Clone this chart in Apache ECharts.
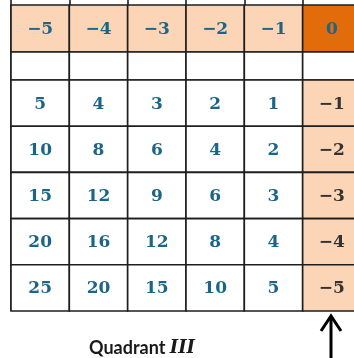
<!DOCTYPE html>
<html><head><meta charset="utf-8">
<script src="https://cdn.jsdelivr.net/npm/echarts@6/dist/echarts.min.js"></script>
<style>html,body{margin:0;padding:0;background:#fff}#c{width:354px;height:358px}</style>
</head><body><div id="c"></div>
<script>
// ---- data ----
const columnKeys = ['c1', 'c2', 'c3', 'c4', 'c5', 'c6'];
const headerValues = [-5, -4, -3, -2, -1, 0];
const rowKeys = ['r1', 'r2', 'r3', 'r4', 'r5'];
const tableRows = [
  [5, 4, 3, 2, 1],
  [10, 8, 6, 4, 2],
  [15, 12, 9, 6, 3],
  [20, 16, 12, 8, 4],
  [25, 20, 15, 10, 5]
];
const rightColumn = [-1, -2, -3, -4, -5];
const titleMain = 'Quadrant ';
const titleNumeral = 'III';

// ---- styles ----
const TEAL = '#1b6688', DARK = '#333333', LIGHT = '#fbd5b5', ORANGE = '#e36c0a', LINE = '#1e1e1e';
const fmt = v => (v < 0 ? '\u2212' + Math.abs(v) : String(v));
// kind: 0 plain, 1 light right column, 2 dark orange, 3 light header, 4 blank
const headerData = headerValues.map((v, i) => [i, 0, v, i === headerValues.length - 1 ? 2 : 3]);
const blankData = columnKeys.map((k, i) => [i, 0, 0, 4]);
const bodyData = [];
tableRows.forEach((row, r) => {
  row.forEach((v, c) => bodyData.push([c, r, v, 0]));
  bodyData.push([row.length, r, rightColumn[r], 1]);
});

function renderCell(params, api) {
  const c = api.coord([api.value(0), api.value(1)]);
  const s = api.size([1, 1]);
  const kind = api.value(3);
  const fill = kind === 2 ? ORANGE : (kind === 1 || kind === 3) ? LIGHT : '#ffffff';
  const children = [{
    type: 'rect',
    shape: { x: c[0] - s[0] / 2, y: c[1] - s[1] / 2, width: s[0], height: s[1] },
    style: { fill: fill, stroke: LINE, lineWidth: 1.6 }
  }];
  if (kind !== 4) {
    children.push({
      type: 'text',
      style: {
        text: fmt(api.value(2)), x: c[0], y: c[1] + 1,
        align: 'center', verticalAlign: 'middle',
        fill: kind === 1 ? DARK : TEAL,
        font: 'bold 17px "DejaVu Serif", serif'
      }
    });
  }
  return { type: 'group', children: children };
}

const chart = echarts.init(document.getElementById('c'), null, { renderer: 'canvas' });
const L = 11, W = 350;
const gridBase = { left: L, width: W, outerBoundsMode: 'none', containLabel: false };
chart.setOption({
  animation: false,
  backgroundColor: '#ffffff',
  grid: [
    Object.assign({ top: 0, height: 311 }, gridBase),
    Object.assign({ top: 5, height: 47 }, gridBase),
    Object.assign({ top: 52, height: 28 }, gridBase),
    Object.assign({ top: 80, height: 231 }, gridBase)
  ],
  xAxis: [0, 1, 2, 3].map(g => ({
    type: 'category', data: columnKeys, gridIndex: g, show: g === 0,
    axisLine: { show: false }, axisTick: { show: false }, axisLabel: { show: false },
    splitLine: { show: g === 0, lineStyle: { color: LINE, width: 1.6 } }
  })),
  yAxis: [
    { type: 'value', gridIndex: 0, show: false },
    { type: 'category', data: ['h'], gridIndex: 1, show: false },
    { type: 'category', data: ['b'], gridIndex: 2, show: false },
    { type: 'category', data: rowKeys, gridIndex: 3, inverse: true, show: false }
  ],
  series: [
    { type: 'custom', xAxisIndex: 1, yAxisIndex: 1, data: headerData, renderItem: renderCell, silent: true, clip: false },
    { type: 'custom', xAxisIndex: 2, yAxisIndex: 2, data: blankData, renderItem: renderCell, silent: true, clip: false },
    { type: 'custom', xAxisIndex: 3, yAxisIndex: 3, data: bodyData, renderItem: renderCell, silent: true, clip: false }
  ],
  graphic: [
    {
      type: 'text', left: 89, top: 339,
      style: {
        text: '{a|' + titleMain + '}{b|' + titleNumeral + '}',
        rich: {
          a: { font: 'bold 18px Lato, "Open Sans", sans-serif', fill: '#1a1a1a' },
          b: { font: 'italic bold 18px "DejaVu Serif", serif', fill: '#1a1a1a' }
        }
      }
    },
    {
      type: 'group',
      children: [
        { type: 'line', shape: { x1: 331, y1: 316, x2: 331, y2: 360 }, style: { stroke: '#000', lineWidth: 3 } },
        { type: 'polyline', shape: { points: [[321, 331], [331, 316], [341, 331]] }, style: { stroke: '#000', lineWidth: 3, fill: null } }
      ]
    }
  ]
});
</script></body></html>
